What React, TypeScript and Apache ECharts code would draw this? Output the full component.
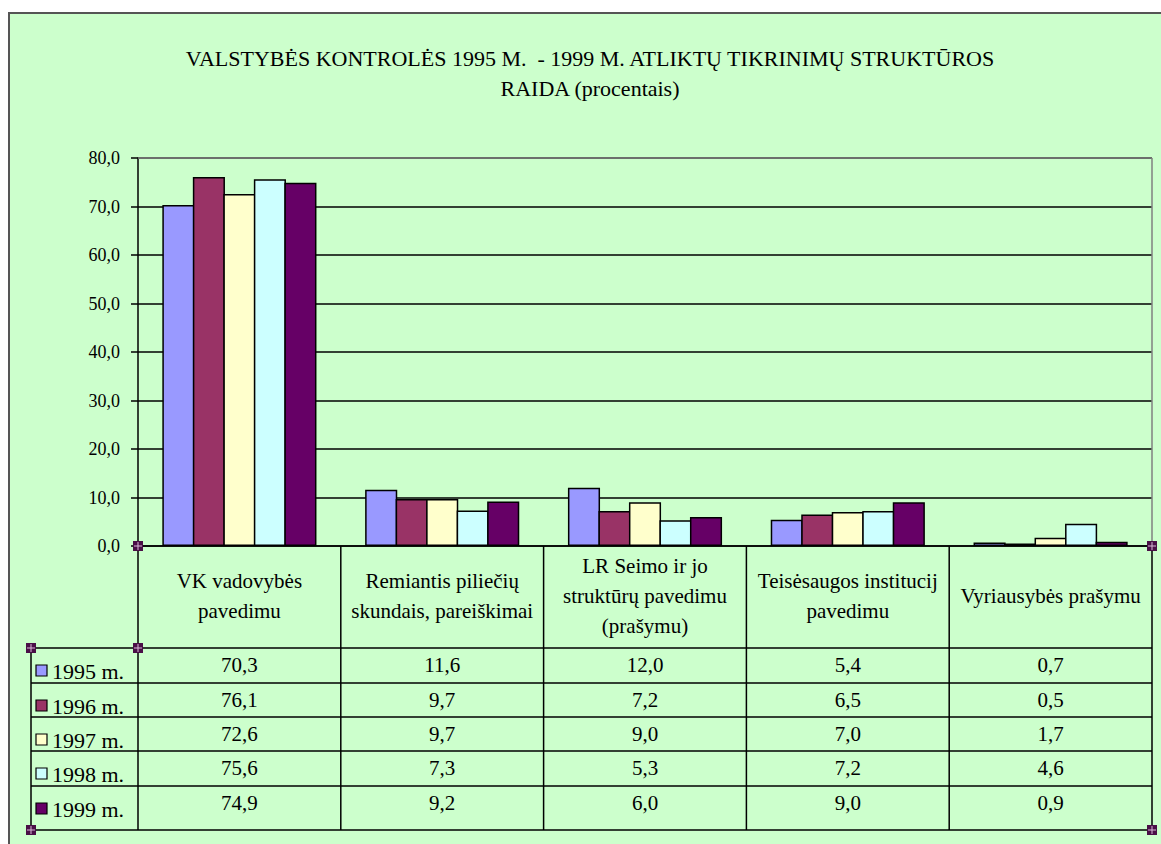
import React, { useEffect, useRef } from 'react';
import * as echarts from 'echarts';

const categories = [
  'VK vadovybės\npavedimu',
  'Remiantis piliečių\nskundais, pareiškimai',
  'LR Seimo ir jo\nstruktūrų pavedimu\n(prašymu)',
  'Teisėsaugos institucij\npavedimu',
  'Vyriausybės prašymu',
];
const seriesNames = ['1995 m.', '1996 m.', '1997 m.', '1998 m.', '1999 m.'];
const v1995 = [70.3, 11.6, 12.0, 5.4, 0.7];
const v1996 = [76.1, 9.7, 7.2, 6.5, 0.5];
const v1997 = [72.6, 9.7, 9.0, 7.0, 1.7];
const v1998 = [75.6, 7.3, 5.3, 7.2, 4.6];
const v1999 = [74.9, 9.2, 6.0, 9.0, 0.9];
const seriesValues = [v1995, v1996, v1997, v1998, v1999];
const colors = ['#9999FF', '#993366', '#FFFFCC', '#CCFFFF', '#660066'];
const titleText = 'VALSTYBĖS KONTROLĖS 1995 M.  - 1999 M. ATLIKTŲ TIKRINIMŲ STRUKTŪROS\nRAIDA (procentais)';

const FONT = 'Liberation Serif, DejaVu Serif, serif';

// layout
const L = 138, R = 1152, TOP = 158, AX = 546;
const TL = 31;
const rowLines = [648, 683, 717, 751, 786, 830];

const fmt = (v: number) => v.toFixed(1).replace('.', ',');

export default function App() {
  const ref = useRef<HTMLDivElement>(null);
  useEffect(() => {
    if (!ref.current) return;
    const chart = echarts.init(ref.current, null, { renderer: 'svg' });
    const colW = (R - L) / categories.length;
    const g: any[] = [];
    const line = (x1: number, y1: number, x2: number, y2: number, color = '#000', w = 1.5) =>
      g.push({ type: 'line', shape: { x1, y1, x2, y2 }, style: { stroke: color, lineWidth: w }, z: 10 });
    const text = (x: number, y: number, t: string, size: number, align: string, lh?: number) =>
      g.push({
        type: 'text', x, y, z: 10,
        style: { text: t, fontFamily: FONT, fontSize: size, fill: '#000', align, verticalAlign: 'middle', lineHeight: lh },
      });
    // plot area border (top + right) in grey
    line(L, TOP, R, TOP, '#808080', 1.5);
    line(R, TOP, R, AX, '#808080', 1.5);
    // table lines
    rowLines.forEach((y) => line(TL, y, R, y));
    line(TL, rowLines[0], TL, rowLines[rowLines.length - 1]);
    for (let i = 0; i <= categories.length; i++) {
      const x = L + i * colW;
      line(x, AX, x, rowLines[rowLines.length - 1]);
    }
    // header texts
    categories.forEach((c, i) => text(L + (i + 0.5) * colW, 596, c, 21, 'center', 30));
    // values + legend
    seriesNames.forEach((name, r) => {
      const top = rowLines[r];
      g.push({ type: 'rect', shape: { x: 36, y: top + 17, width: 11, height: 11 }, style: { fill: colors[r], stroke: '#000', lineWidth: 1.2 }, z: 10 });
      text(52, top + 23, name, 22, 'left');
      seriesValues[r].forEach((v, i) => text(L + (i + 0.5) * colW, top + 17, fmt(v), 21, 'center'));
    });
    // title
    text(590, 73, titleText, 22, 'center', 30);
    // selection handles
    const handles: [number, number][] = [[L, AX], [TL, rowLines[0]], [L, rowLines[0]], [TL, rowLines[5]], [R, AX], [R, rowLines[5]]];
    handles.forEach(([x, y]) => {
      g.push({ type: 'rect', shape: { x: x - 5, y: y - 5, width: 10, height: 10 }, style: { fill: '#4a0f47' }, z: 20 });
      g.push({ type: 'line', shape: { x1: x - 4, y1: y, x2: x + 4, y2: y }, style: { stroke: '#d8b8d8', lineWidth: 1 }, z: 21 });
      g.push({ type: 'line', shape: { x1: x, y1: y - 4, x2: x, y2: y + 4 }, style: { stroke: '#d8b8d8', lineWidth: 1 }, z: 21 });
    });

    chart.setOption({
      animation: false,
      backgroundColor: 'transparent',
      grid: { left: L, right: 1161 - R, top: TOP, bottom: 844 - AX, containLabel: false },
      xAxis: {
        type: 'category',
        data: categories,
        axisLine: { lineStyle: { color: '#000', width: 1.5 } },
        axisTick: { show: false },
        axisLabel: { show: false },
      },
      yAxis: {
        type: 'value',
        min: 0, max: 80, interval: 10,
        axisLine: { show: true, lineStyle: { color: '#000', width: 1.5 } },
        axisTick: { show: true, inside: false, length: 7, lineStyle: { color: '#000', width: 1.5 } },
        axisLabel: { formatter: (v: number) => fmt(v), fontFamily: FONT, fontSize: 18, color: '#000', margin: 18 },
        splitLine: { show: true, lineStyle: { color: '#000', width: 1.5 } },
      },
      series: seriesNames.map((n, i) => ({
        type: 'bar',
        name: n,
        data: seriesValues[i],
        barGap: '-5%',
        barCategoryGap: '24%',
        itemStyle: { color: colors[i], borderColor: '#000', borderWidth: 1.5 },
      })),
      graphic: g,
    });
    return () => chart.dispose();
  }, []);
  return (
    <div style={{ position: 'absolute', left: 0, top: 0, width: 1161, height: 844, background: '#fff', overflow: 'hidden' }}>
      <div style={{ position: 'absolute', left: 8, top: 12, width: 1153, height: 832, background: '#CCFFCC', borderTop: '2px solid #555', borderLeft: '2px solid #555', boxSizing: 'border-box' }} />
      <div ref={ref} style={{ position: 'absolute', left: 0, top: 0, width: 1161, height: 844 }} />
    </div>
  );
}
